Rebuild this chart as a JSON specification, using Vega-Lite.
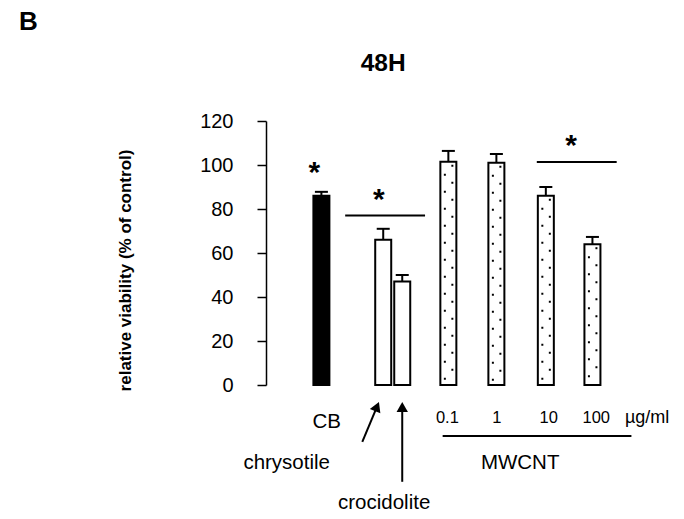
{
  "$schema": "https://vega.github.io/schema/vega-lite/v6.json",
  "width": 398,
  "height": 264,
  "autosize": {"type": "none"},
  "padding": {"left": 266, "top": 121, "right": 20, "bottom": 134},
  "config": {
    "view": {"stroke": null},
    "font": "Liberation Sans",
    "axisY": {
      "domainColor": "black", "domainWidth": 1.5, "tickColor": "black", "tickWidth": 1.5, "tickSize": 9,
      "labelFontSize": 20, "labelColor": "black", "labelPadding": 24, "labelFont": "Liberation Sans", "grid": false,
      "titleFont": "Liberation Sans", "titleFontSize": 17, "titleFontWeight": "bold", "titleColor": "black",
      "titleX": -141, "titleY": 149, "titleAngle": -90, "titleAlign": "center", "titleBaseline": "middle",
      "values": [0, 20, 40, 60, 80, 100, 120]
    }
  },
  "datasets": {
    "bars": [
      {"sample": "CB", "type": "CB", "x": 1, "value": 86, "hi": 87.8},
      {"sample": "chrysotile", "type": "asbestos", "x": 2.3, "value": 66, "hi": 71},
      {"sample": "crocidolite", "type": "asbestos", "x": 2.7, "value": 47, "hi": 50},
      {"sample": "MWCNT 0.1", "type": "MWCNT", "x": 3.67, "value": 101.5, "hi": 106.4},
      {"sample": "MWCNT 1", "type": "MWCNT", "x": 4.68, "value": 101, "hi": 105},
      {"sample": "MWCNT 10", "type": "MWCNT", "x": 5.72, "value": 86, "hi": 90},
      {"sample": "MWCNT 100", "type": "MWCNT", "x": 6.7, "value": 64, "hi": 67.3}
    ],
    "segs": [
      {"x": 1.5, "x2": 3.18, "y": 77, "y2": 77},
      {"x": 5.53, "x2": 7.21, "y": 101.4, "y2": 101.4},
      {"x": 3.55, "x2": 7.52, "y": -23.2, "y2": -23.2},
      {"x": 1.86, "x2": 2.17, "y": -25.9, "y2": -9.8},
      {"x": 2.7, "x2": 2.7, "y": -44, "y2": -10}
    ],
    "heads": [
      {"x": 2.17, "y": -9.8, "angle": 23},
      {"x": 2.7, "y": -10, "angle": 0}
    ],
    "stars": [
      {"x": 0.85, "y": 99.8},
      {"x": 2.21, "y": 87.7},
      {"x": 6.25, "y": 112.5}
    ],
    "labels": [
      {"text": "CB", "kind": "name", "x": 1.11, "y": -19.5},
      {"text": "chrysotile", "kind": "name", "x": 0.27, "y": -38.2},
      {"text": "crocidolite", "kind": "name", "x": 2.32, "y": -56.4},
      {"text": "MWCNT", "kind": "name", "x": 5.18, "y": -38.2},
      {"text": "0.1", "kind": "num", "x": 3.65, "y": -17.3},
      {"text": "1", "kind": "num", "x": 4.69, "y": -17.3},
      {"text": "10", "kind": "num", "x": 5.78, "y": -17.3},
      {"text": "100", "kind": "num", "x": 6.78, "y": -17.3},
      {"text": "µg/ml", "kind": "unit", "x": 7.85, "y": -17.3},
      {"text": "B", "kind": "panel", "x": -5.16, "y": 161.4},
      {"text": "48H", "kind": "title", "x": 2.3, "y": 142.7}
    ]
  },
  "layer": [
    {
      "data": {"name": "bars"},
      "mark": {"type": "bar", "size": 16, "stroke": "black", "strokeWidth": 2},
      "encoding": {
        "x": {"field": "x", "type": "quantitative", "scale": {"domain": [-0.06, 8.1], "nice": false, "zero": false}, "axis": null},
        "y": {"field": "value", "type": "quantitative", "scale": {"domain": [0, 120], "nice": false}, "title": "relative viability (% of control)"},
        "fill": {"field": "type", "type": "nominal", "scale": {"domain": ["CB", "asbestos", "MWCNT"], "range": ["black", "white", "white"]}, "legend": null}
      }
    },
    {
      "data": {"name": "bars"},
      "transform": [{"filter": "datum.type === 'MWCNT'"}],
      "mark": {"type": "rule", "color": "black", "strokeWidth": 2, "strokeDash": [2, 15], "strokeDashOffset": 5, "xOffset": -3.5, "strokeCap": "butt"},
      "encoding": {
        "x": {"field": "x", "type": "quantitative", "scale": {"domain": [-0.06, 8.1], "nice": false, "zero": false}, "axis": null},
        "y": {"field": "value", "type": "quantitative", "scale": {"domain": [0, 120], "nice": false}},
        "y2": {"datum": 1}
      }
    },
    {
      "data": {"name": "bars"},
      "transform": [{"filter": "datum.type === 'MWCNT'"}],
      "mark": {"type": "rule", "color": "black", "strokeWidth": 2, "strokeDash": [2, 15], "strokeDashOffset": 14, "xOffset": 4, "strokeCap": "butt"},
      "encoding": {
        "x": {"field": "x", "type": "quantitative", "scale": {"domain": [-0.06, 8.1], "nice": false, "zero": false}, "axis": null},
        "y": {"field": "value", "type": "quantitative", "scale": {"domain": [0, 120], "nice": false}},
        "y2": {"datum": 1}
      }
    },
    {
      "data": {"name": "bars"},
      "mark": {"type": "rule", "color": "black", "strokeWidth": 2},
      "encoding": {
        "x": {"field": "x", "type": "quantitative", "scale": {"domain": [-0.06, 8.1], "nice": false, "zero": false}, "axis": null},
        "y": {"field": "value", "type": "quantitative", "scale": {"domain": [0, 120], "nice": false}},
        "y2": {"field": "hi"}
      }
    },
    {
      "data": {"name": "bars"},
      "mark": {"type": "tick", "color": "black", "orient": "horizontal", "size": 13, "thickness": 2, "opacity": 1},
      "encoding": {
        "x": {"field": "x", "type": "quantitative", "scale": {"domain": [-0.06, 8.1], "nice": false, "zero": false}, "axis": null},
        "y": {"field": "hi", "type": "quantitative", "scale": {"domain": [0, 120], "nice": false}}
      }
    },
    {
      "data": {"name": "segs"},
      "mark": {"type": "rule", "color": "black", "strokeWidth": 2},
      "encoding": {
        "x": {"field": "x", "type": "quantitative", "scale": {"domain": [-0.06, 8.1], "nice": false, "zero": false}, "axis": null},
        "x2": {"field": "x2"},
        "y": {"field": "y", "type": "quantitative", "scale": {"domain": [0, 120], "nice": false}},
        "y2": {"field": "y2"}
      }
    },
    {
      "data": {"name": "heads"},
      "mark": {"type": "point", "shape": "triangle-up", "filled": true, "color": "black", "opacity": 1, "size": 130},
      "encoding": {
        "x": {"field": "x", "type": "quantitative", "scale": {"domain": [-0.06, 8.1], "nice": false, "zero": false}, "axis": null},
        "y": {"field": "y", "type": "quantitative", "scale": {"domain": [0, 120], "nice": false}},
        "angle": {"field": "angle", "type": "quantitative", "scale": null}
      }
    },
    {
      "data": {"name": "stars"},
      "mark": {"type": "text", "text": "*", "fontSize": 30, "fontWeight": "bold", "font": "Liberation Sans", "color": "black", "align": "center", "baseline": "alphabetic", "dy": 17},
      "encoding": {
        "x": {"field": "x", "type": "quantitative", "scale": {"domain": [-0.06, 8.1], "nice": false, "zero": false}, "axis": null},
        "y": {"field": "y", "type": "quantitative", "scale": {"domain": [0, 120], "nice": false}}
      }
    },
    {
      "data": {"name": "labels"},
      "transform": [{"filter": "datum.kind === 'name'"}],
      "mark": {"type": "text", "font": "Liberation Sans", "fontSize": 20.5, "color": "black", "align": "center", "baseline": "alphabetic"},
      "encoding": {
        "x": {"field": "x", "type": "quantitative", "scale": {"domain": [-0.06, 8.1], "nice": false, "zero": false}, "axis": null},
        "y": {"field": "y", "type": "quantitative", "scale": {"domain": [0, 120], "nice": false}},
        "text": {"field": "text"}
      }
    },
    {
      "data": {"name": "labels"},
      "transform": [{"filter": "datum.kind === 'num'"}],
      "mark": {"type": "text", "font": "Liberation Sans", "fontSize": 16.5, "color": "black", "align": "center", "baseline": "alphabetic"},
      "encoding": {
        "x": {"field": "x", "type": "quantitative", "scale": {"domain": [-0.06, 8.1], "nice": false, "zero": false}, "axis": null},
        "y": {"field": "y", "type": "quantitative", "scale": {"domain": [0, 120], "nice": false}},
        "text": {"field": "text"}
      }
    },
    {
      "data": {"name": "labels"},
      "transform": [{"filter": "datum.kind === 'unit'"}],
      "mark": {"type": "text", "font": "Liberation Sans", "fontSize": 18, "color": "black", "align": "center", "baseline": "alphabetic"},
      "encoding": {
        "x": {"field": "x", "type": "quantitative", "scale": {"domain": [-0.06, 8.1], "nice": false, "zero": false}, "axis": null},
        "y": {"field": "y", "type": "quantitative", "scale": {"domain": [0, 120], "nice": false}},
        "text": {"field": "text"}
      }
    },
    {
      "data": {"name": "labels"},
      "transform": [{"filter": "datum.kind === 'panel'"}],
      "mark": {"type": "text", "font": "Liberation Sans", "fontSize": 26, "fontWeight": "bold", "color": "black", "align": "center", "baseline": "alphabetic"},
      "encoding": {
        "x": {"field": "x", "type": "quantitative", "scale": {"domain": [-0.06, 8.1], "nice": false, "zero": false}, "axis": null},
        "y": {"field": "y", "type": "quantitative", "scale": {"domain": [0, 120], "nice": false}},
        "text": {"field": "text"}
      }
    },
    {
      "data": {"name": "labels"},
      "transform": [{"filter": "datum.kind === 'title'"}],
      "mark": {"type": "text", "font": "Liberation Sans", "fontSize": 24.5, "fontWeight": "bold", "color": "black", "align": "center", "baseline": "alphabetic"},
      "encoding": {
        "x": {"field": "x", "type": "quantitative", "scale": {"domain": [-0.06, 8.1], "nice": false, "zero": false}, "axis": null},
        "y": {"field": "y", "type": "quantitative", "scale": {"domain": [0, 120], "nice": false}},
        "text": {"field": "text"}
      }
    }
  ]
}
